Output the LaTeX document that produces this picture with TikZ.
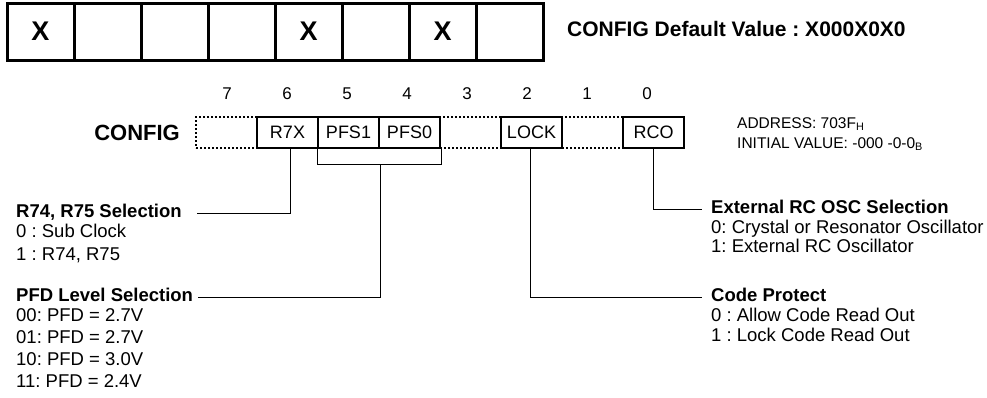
\documentclass[tikz,border=0pt]{standalone}
\usepackage{fontspec}
\setmainfont{Liberation Sans}
\usetikzlibrary{positioning}
\frenchspacing
\tikzset{
  cell/.style={draw, line width=3pt, minimum width=67pt, minimum height=57pt, inner sep=0pt, font=\bfseries\fontsize{27}{27}\selectfont},
  regbit/.style={draw, line width=2pt, minimum width=61pt, minimum height=31pt, inner sep=0pt, font=\fontsize{18}{18}\selectfont},
  nobit/.style={regbit, dash pattern=on 2pt off 2pt},
  lead/.style={line width=1pt},
  title/.style={anchor=west, inner sep=0pt, text height=13pt, text depth=4pt, font=\bfseries\fontsize{18.5}{18.5}\selectfont},
  body/.style={anchor=north west, inner sep=0pt, align=left, font=\fontsize{18.5}{#1}\selectfont},
  body/.default=21pt
}

\begin{document}
\begin{tikzpicture}[x=1pt, y=-1pt]
  \useasboundingbox (0,0) rectangle (987,397);
  % default value row
  \foreach \i/\t in {0/X,1/,2/,3/,4/X,5/,6/X,7/}
    \node[cell] (c\i) at ({40.5+67*\i}, 31.5) {\t};
  \node[anchor=west, inner sep=0pt, font=\bfseries\fontsize{21}{21}\selectfont] (defval) at (567,28.5) {CONFIG Default Value : X000X0X0};

  % register
  \foreach \b/\t/\s in {7//nobit, 6/R7X/regbit, 5/PFS1/regbit, 4/PFS0/regbit, 3//nobit, 2/LOCK/regbit, 1//nobit, 0/RCO/regbit}
    \node[\s] (b\b) at ({226.5+61*(7-\b)}, 132.5) {\t};
  \foreach \b in {0,...,7}
    \node[font=\fontsize{17}{17}\selectfont] (n\b) at ({227+60*(7-\b)}, 94) {\b};
  \node[left=15pt of b7, inner sep=0pt, font=\bfseries\fontsize{22}{22}\selectfont] (reglabel) {CONFIG};
  \node[anchor=west, inner sep=0pt, font=\fontsize{15.5}{15.5}\selectfont] (addr) at (737,124) {ADDRESS: 703F\textsubscript{H}};
  \node[anchor=west, inner sep=0pt, font=\fontsize{15.5}{15.5}\selectfont] (initval) at (737,144) {INITIAL VALUE: -000 -0-0\textsubscript{B}};

  % bit descriptions
  \node[title] (r74t) at (16,213) {R74, R75 Selection};
  \node[below=2.5pt of r74t.south west, body=23pt] (r74b) {0 : Sub Clock\\1 : R74, R75};
  \node[title] (pfdt) at (16,297) {PFD Level Selection};
  \node[below=2.5pt of pfdt.south west, body=22pt] (pfdb) {00: PFD = 2.7V\\01: PFD = 2.7V\\10: PFD = 3.0V\\11: PFD = 2.4V};
  \node[title] (rcot) at (711,209) {External RC OSC Selection};
  \node[below=2.5pt of rcot.south west, body=19pt] (rcob) {0: Crystal or Resonator Oscillator\\1: External RC Oscillator};
  \node[title] (lockt) at (711,297) {Code Protect};
  \node[below=2.5pt of lockt.south west, body=20pt] (lockb) {0 : Allow Code Read Out\\1 : Lock Code Read Out};

  % leads
  \draw[lead] ([xshift=3pt]b6.south) |- ([xshift=15pt]r74t.east);
  \draw[lead] (b5.south west) -- ++(0,15) -| (b4.south east);
  \coordinate (pfsjoin) at ([yshift=-15pt]b5.south east);
  \draw[lead] (pfsjoin) |- ([xshift=5pt]pfdt.east);
  \draw[lead] ([xshift=-1pt]b2.south) |- ([xshift=-9pt]lockt.west);
  \draw[lead] (b0.south) |- ([xshift=-9pt]rcot.west);
\end{tikzpicture}
\end{document}
